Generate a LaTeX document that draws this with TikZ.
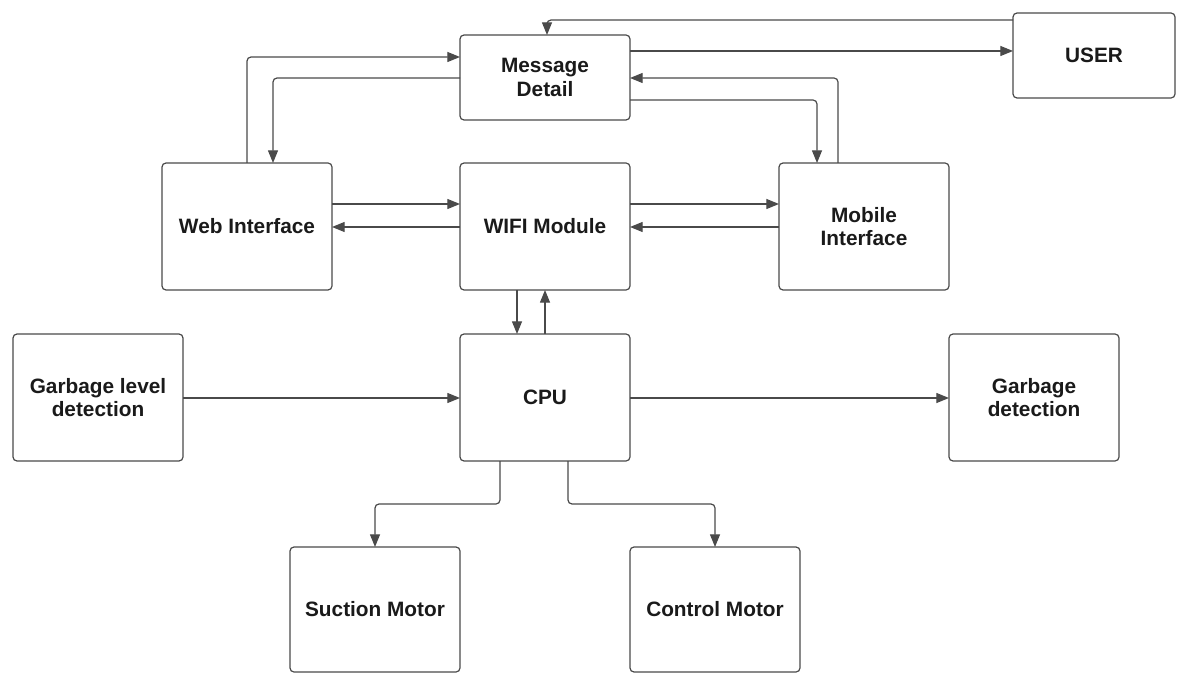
\documentclass[tikz,border=0pt]{standalone}
\usepackage{fontspec}
\setmainfont{Liberation Sans}
\usetikzlibrary{arrows.meta,calc}
\definecolor{edge}{HTML}{4A4A4A}
\definecolor{ink}{HTML}{1A1A1A}
\tikzset{
  blk/.style={draw=edge, line width=0.9pt, rounded corners=3pt, fill=white,
    inner sep=2pt, outer sep=0pt, align=center, text=ink,
    font=\fontsize{15.6}{17.5}\selectfont\bfseries,
    minimum width=127.5pt, minimum height=95.25pt},
  short/.style={minimum height=63.75pt},
  arr/.style={draw=edge, line width=0.9pt, rounded corners=3pt,
    -{Triangle[length=9.5pt,width=7.5pt]}}
}
\begin{document}
\begin{tikzpicture}[x=0.75pt,y=-0.75pt]
  % page area
  \fill[white] (0,0) rectangle (1177,673);
  \useasboundingbox (0,0) rectangle (1177,673);

  % blocks
  \node[blk,short] (md)   at (545,77.5)  {Message\\Detail};
  \node[blk,short,minimum width=121.5pt] (user) at (1094,55.5) {USER};
  \node[blk] (web)  at (247,226.5) {Web Interface};
  \node[blk] (wifi) at (545,226.5) {WIFI Module};
  \node[blk] (mob)  at (864,226.5) {Mobile\\Interface};
  \node[blk] (gl)   at (98,397.5)  {Garbage level\\detection};
  \node[blk] (cpu)  at (545,397.5) {CPU};
  \node[blk] (gd)   at (1034,397.5) {Garbage\\detection};
  \node[blk,minimum height=93.75pt] (suc) at (375,609.5) {Suction Motor};
  \node[blk,minimum height=93.75pt] (ctl) at (715,609.5) {Control Motor};

  % message detail links
  \draw[arr] (user.west |- 0,20) -| (md.north -| 547,0);
  \draw[arr] (md.east |- 0,51) -- (user.west |- 0,51);
  \draw[arr] (mob.north -| 838,0) |- (md.east |- 0,78);
  \draw[arr] (md.east |- 0,100) -| (mob.north -| 817,0);
  \draw[arr] (web.north -| 247,0) |- (md.west |- 0,57);
  \draw[arr] (md.west |- 0,78) -| (web.north -| 273,0);

  % interfaces and wifi
  \draw[arr] (web.east |- 0,204) -- (wifi.west |- 0,204);
  \draw[arr] (wifi.west |- 0,227) -- (web.east |- 0,227);
  \draw[arr] (wifi.east |- 0,204) -- (mob.west |- 0,204);
  \draw[arr] (mob.west |- 0,227) -- (wifi.east |- 0,227);

  % wifi and cpu
  \draw[arr] (wifi.south -| 517,0) -- (cpu.north -| 517,0);
  \draw[arr] (cpu.north -| 545,0) -- (wifi.south -| 545,0);

  % sensors
  \draw[arr] (gl.east |- 0,398) -- (cpu.west |- 0,398);
  \draw[arr] (cpu.east |- 0,398) -- (gd.west |- 0,398);

  % motors
  \draw[arr] (cpu.south -| 500,0) -- (500,504) -| (suc.north);
  \draw[arr] (cpu.south -| 568,0) -- (568,504) -| (ctl.north);
\end{tikzpicture}
\end{document}
